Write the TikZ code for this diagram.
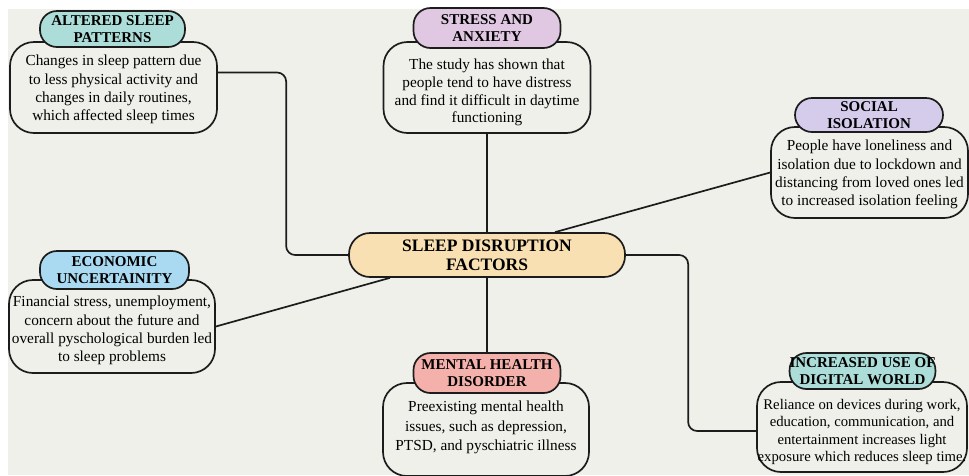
\documentclass[tikz,border=0pt]{standalone}
\usepackage{fontspec}
\setmainfont{Liberation Serif}
\usetikzlibrary{calc}
\pgfdeclarelayer{back}
\pgfsetlayers{back,main}

\definecolor{paper}{RGB}{240,240,235}
\definecolor{ink}{RGB}{28,28,28}
\definecolor{tealhead}{RGB}{172,221,216}
\definecolor{lilachead}{RGB}{224,200,226}
\definecolor{lavhead}{RGB}{213,204,236}
\definecolor{bluehead}{RGB}{170,218,242}
\definecolor{salmonhead}{RGB}{244,176,170}
\definecolor{hubfill}{RGB}{248,224,178}

\tikzset{
  bodybox/.style={draw=ink, line width=1.7pt, rounded corners=24pt, fill=paper, inner sep=0pt},
  bodytext/.style={align=center, inner sep=0pt, font=\fontsize{15.3}{18.3}\selectfont},
  headbox/.style={draw=ink, line width=1.7pt, rounded corners=17pt,
    align=center, inner sep=0pt, font=\fontsize{15}{17.5}\selectfont\bfseries},
  hubbox/.style={draw=ink, line width=1.7pt, rounded corners=21pt, fill=hubfill,
    align=center, inner sep=0pt, font=\fontsize{17.5}{19}\selectfont\bfseries},
  link/.style={draw=ink, line width=1.7pt},
}

\begin{document}
\begin{tikzpicture}[x=1pt,y=-1pt]
  \useasboundingbox (0,0) rectangle (969,475);

  % central topic
  \node[hubbox, minimum width=276pt, minimum height=44pt] (hub) at (487,255)
    {SLEEP DISRUPTION\\FACTORS};

  % altered sleep patterns
  \node[bodybox, minimum width=207pt, minimum height=91pt] (alt) at (113.5,87.5) {};
  \node[bodytext] (altt) at ([yshift=-2pt]alt.center)
    {Changes in sleep pattern due\\to less physical activity and\\changes in daily routines,\\which affected sleep times};
  \node[headbox, fill=tealhead, minimum width=145pt, minimum height=36pt] (alth) at (112.5,29)
    {ALTERED SLEEP\\PATTERNS};

  % stress and anxiety
  \node[bodybox, minimum width=207pt, minimum height=91pt] (stress) at (487,87.5) {};
  \node[bodytext, font=\fontsize{15.3}{17.7}\selectfont] (stresst) at ([yshift=-5pt]stress.center)
    {The study has shown that\\people tend to have distress\\and find it difficult in daytime\\functioning};
  \node[headbox, fill=lilachead, minimum width=147pt, minimum height=40pt] (stressh) at (487,28)
    {STRESS AND\\ANXIETY};

  % social isolation
  \node[bodybox, minimum width=197pt, minimum height=91pt] (soc) at (869.5,172.5) {};
  \node[bodytext] (soct) at ([yshift=-2pt]soc.center)
    {People have loneliness and\\isolation due to lockdown and\\distancing from loved ones led\\to increased isolation feeling};
  \node[headbox, fill=lavhead, minimum width=148pt, minimum height=34pt] (soch) at (869,115)
    {SOCIAL\\ISOLATION};

  % economic uncertainity
  \node[bodybox, minimum width=206pt, minimum height=93pt] (eco) at (112,326.5) {};
  \node[bodytext] (ecot) at ([yshift=-4pt]eco.center)
    {Financial stress, unemployment,\\concern about the future and\\overall pyschological burden led\\to sleep problems};
  \node[headbox, fill=bluehead, minimum width=149pt, minimum height=38pt] (ecoh) at (114.5,270)
    {ECONOMIC\\UNCERTAINITY};

  % mental health disorder
  \node[bodybox, minimum width=206pt, minimum height=93pt] (mental) at (486,429.5) {};
  \node[bodytext, font=\fontsize{15.3}{19.5}\selectfont] (mentalt) at ([yshift=2pt]mental.center)
    {Preexisting mental health\\issues, such as depression,\\PTSD, and pyschiatric illness};
  \node[headbox, fill=salmonhead, minimum width=147pt, minimum height=40pt] (mentalh) at (487,373)
    {MENTAL HEALTH\\DISORDER};

  % increased use of digital world
  \node[bodybox, minimum width=210pt, minimum height=90pt] (dig) at (862,427) {};
  \node[bodytext, font=\fontsize{14.7}{17.5}\selectfont] (digt) at ([yshift=-5pt]dig.center)
    {Reliance on devices during work,\\education, communication, and\\entertainment increases light\\exposure which reduces sleep time.};
  \node[headbox, fill=tealhead, minimum width=145pt, minimum height=36pt] (digh) at (862.5,371)
    {INCREASED USE OF\\DIGITAL WORLD};

  % page colour and connectors, kept behind the boxes
  \begin{pgfonlayer}{back}
    \fill[white] (0,0) rectangle (969,475);
    \fill[paper] (8,9) rectangle (969,475);
    \draw[link, rounded corners=9pt] ([yshift=15pt]alt.east) -| ([xshift=-62pt]hub.west) -- (hub.west);
    \draw[link] (stress.south) -- (hub.north);
    \draw[link] ([xshift=68pt]hub.north) -- (soc.west);
    \draw[link] (eco.east) -- ([xshift=-97pt]hub.south);
    \draw[link] (hub.south) -- (mentalh.north);
    \draw[link, rounded corners=9pt] (hub.east) -| ([xshift=-68pt,yshift=-4pt]dig.west) -- ([yshift=-4pt]dig.west);
  \end{pgfonlayer}
\end{tikzpicture}
\end{document}
